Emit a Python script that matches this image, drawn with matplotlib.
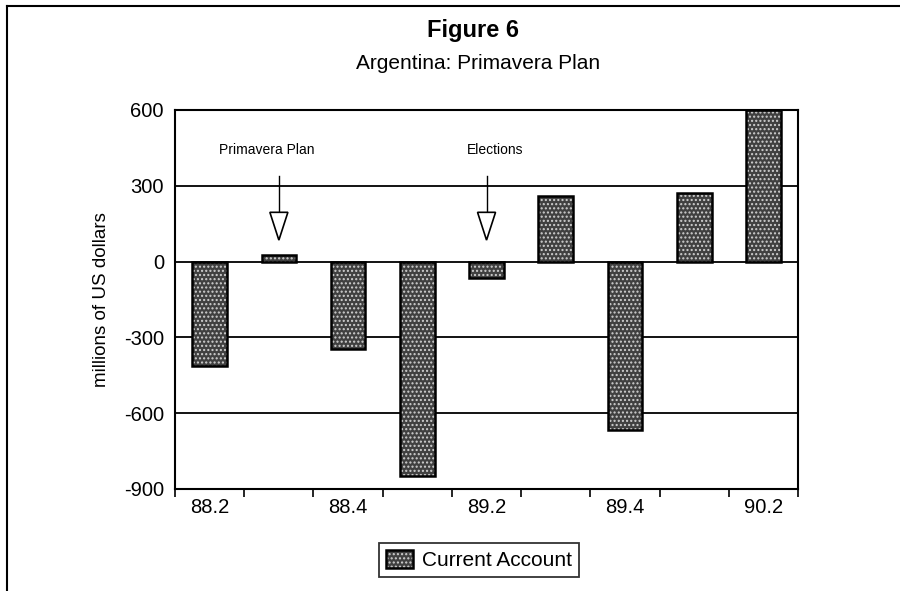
import matplotlib.pyplot as plt
from matplotlib.lines import Line2D
from matplotlib.patches import Polygon
from matplotlib.legend_handler import HandlerTuple

plt.rcParams['font.family'] = ['Liberation Sans', 'DejaVu Sans']

# quarterly current account, millions of US dollars
quarters = ['88.2', '88.3', '88.4', '89.1', '89.2', '89.3', '89.4', '90.1', '90.2']
current_account = [-415, 25, -345, -850, -65, 260, -665, 270, 600]
shown_labels = ['88.2', '88.4', '89.2', '89.4', '90.2']
events = ['Primavera Plan', 'Elections']
event_quarters = ['88.3', '89.2']

fig = plt.figure(figsize=(9, 5.91), dpi=100)
ax = fig.add_axes([0.1945, 0.1726, 0.6922, 0.6413])

x = list(range(len(quarters)))
fill = ax.bar(x, current_account, width=0.5, color='#404040', edgecolor='#d0d0d0',
              hatch='....', linewidth=0, zorder=3)
edge = ax.bar(x, current_account, width=0.5, fill=False, edgecolor='black',
              linewidth=1.8, zorder=4)

ax.set_xlim(-0.5, len(quarters) - 0.5)
ax.set_ylim(-900, 600)
ax.set_yticks([-900, -600, -300, 0, 300, 600])
ax.set_yticklabels(['-900', '-600', '-300', '0', '300', '600'])
ax.yaxis.grid(True, color='black', linewidth=1.3, zorder=1)
ax.tick_params(axis='y', length=0, labelsize=14.5, pad=8)

ax.set_xticks([i - 0.5 for i in range(len(quarters) + 1)])
ax.set_xticklabels([''] * (len(quarters) + 1))
ax.tick_params(axis='x', direction='out', length=6, width=1.2)
for lab in shown_labels:
    ax.text(quarters.index(lab), -935, lab, ha='center', va='top', fontsize=14.5)

for s in ax.spines.values():
    s.set_linewidth(1.5)
    s.set_color('black')

ax.set_ylabel('millions of US dollars', fontsize=13.5, labelpad=10)

# event arrows
for name, q, dx in zip(events, event_quarters, [-0.17, 0.13]):
    xi = quarters.index(q)
    ax.text(xi + dx, 440, name, ha='center', va='center', fontsize=10)
    ax.plot([xi, xi], [340, 195], color='black', linewidth=1, zorder=5)
    tri = Polygon([[xi - 0.13, 195], [xi + 0.13, 195], [xi, 85]], closed=True,
                  facecolor='white', edgecolor='black', linewidth=1.2, zorder=5)
    ax.add_patch(tri)

fig.text(0.526, 0.948, 'Figure 6', ha='center', va='center', fontsize=17, fontweight='bold')
fig.text(0.531, 0.893, 'Argentina: Primavera Plan', ha='center', va='center', fontsize=15)

leg = fig.legend([(fill, edge)], ['Current Account'], loc='center',
                 bbox_to_anchor=(0.532, 0.052), fontsize=15, frameon=True,
                 fancybox=False, handler_map={tuple: HandlerTuple(ndivide=1)},
                 handlelength=1.3, handleheight=0.9, borderpad=0.35, handletextpad=0.4)
leg.get_frame().set_edgecolor('black')
leg.get_frame().set_linewidth(1.3)

# page frame
fig.add_artist(Line2D([0.008, 0.008], [0.0, 0.99], color='black', linewidth=1.5))
fig.add_artist(Line2D([0.008, 1.0], [0.99, 0.99], color='black', linewidth=1.5))

fig.savefig('out.png', dpi=100)
